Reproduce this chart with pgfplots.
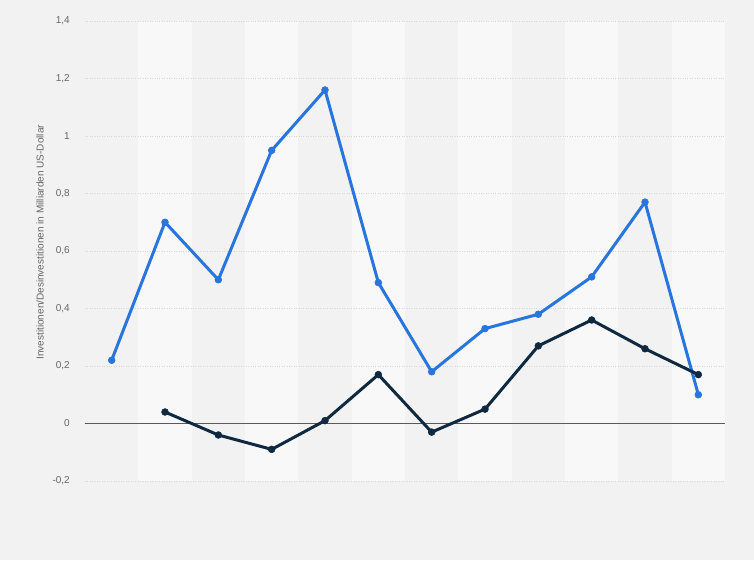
\documentclass[border=0pt]{standalone}
\usepackage{fontspec}
\setmainfont{Liberation Sans}
\usepackage{pgfplots}
\pgfplotsset{compat=1.18}

\definecolor{bgouter}{HTML}{F2F2F2}
\definecolor{bglight}{HTML}{F8F8F8}
\definecolor{gridgray}{HTML}{D6D6D6}
\definecolor{txtgray}{HTML}{666666}
\definecolor{zeroline}{HTML}{5A5A5A}
\definecolor{sblue}{HTML}{2876DD}
\definecolor{snavy}{HTML}{0F2A40}

\begin{document}
\begin{tikzpicture}
\begin{axis}[
  set layers,
  scale only axis,
  width=640pt, height=460pt,
  xmin=-0.5, xmax=11.5,
  ymin=-0.2, ymax=1.4,
  xtick=\empty,
  ytick={-0.2,0,0.2,0.4,0.6,0.8,1,1.2,1.4},
  ymajorgrids,
  grid style={dotted, gridgray, line width=0.8pt},
  axis line style={draw=none},
  major tick length=0pt,
  clip=false,
  /pgf/number format/use comma,
  /pgf/number format/assume math mode=true,
  yticklabel style={font=\fontsize{10}{12}\selectfont, text=txtgray,
    anchor=east, inner sep=0pt, xshift=-15pt},
  ylabel={Investitionen/Desinvestitionen in Milliarden US-Dollar},
  ylabel style={at={([xshift=-45pt]axis description cs:0,0.519)},
    anchor=center, font=\fontsize{10}{12}\selectfont, text=txtgray},
]

\begin{pgfonlayer}{axis background}
  \fill[bgouter] ([shift={(-85pt,-79pt)}]axis description cs:0,0)
    rectangle ([shift={(29pt,21pt)}]axis description cs:1,1);
  \fill[bglight] (axis cs:0.5,-0.2) rectangle (axis cs:1.5,1.4);
  \fill[bglight] (axis cs:2.5,-0.2) rectangle (axis cs:3.5,1.4);
  \fill[bglight] (axis cs:4.5,-0.2) rectangle (axis cs:5.5,1.4);
  \fill[bglight] (axis cs:6.5,-0.2) rectangle (axis cs:7.5,1.4);
  \fill[bglight] (axis cs:8.5,-0.2) rectangle (axis cs:9.5,1.4);
  \fill[bglight] (axis cs:10.5,-0.2) rectangle (axis cs:11.5,1.4);
\end{pgfonlayer}

\draw[zeroline, line width=1pt] (axis cs:-0.5,0) -- (axis cs:11.5,0);

% Investitionen
\addplot[sblue, line width=3pt, line join=round, mark=*, mark size=3.4pt,
  mark options={solid, fill=sblue, draw=sblue, line width=0.6pt}] coordinates {
  (0,0.22) (1,0.70) (2,0.50) (3,0.95) (4,1.16) (5,0.49)
  (6,0.18) (7,0.33) (8,0.38) (9,0.51) (10,0.77) (11,0.10)
};

% Desinvestitionen
\addplot[snavy, line width=3pt, line join=round, mark=*, mark size=3.4pt,
  mark options={solid, fill=snavy, draw=snavy, line width=0.6pt}] coordinates {
  (1,0.04) (2,-0.04) (3,-0.09) (4,0.01) (5,0.17)
  (6,-0.03) (7,0.05) (8,0.27) (9,0.36) (10,0.26) (11,0.17)
};
\end{axis}
\end{tikzpicture}
\end{document}
